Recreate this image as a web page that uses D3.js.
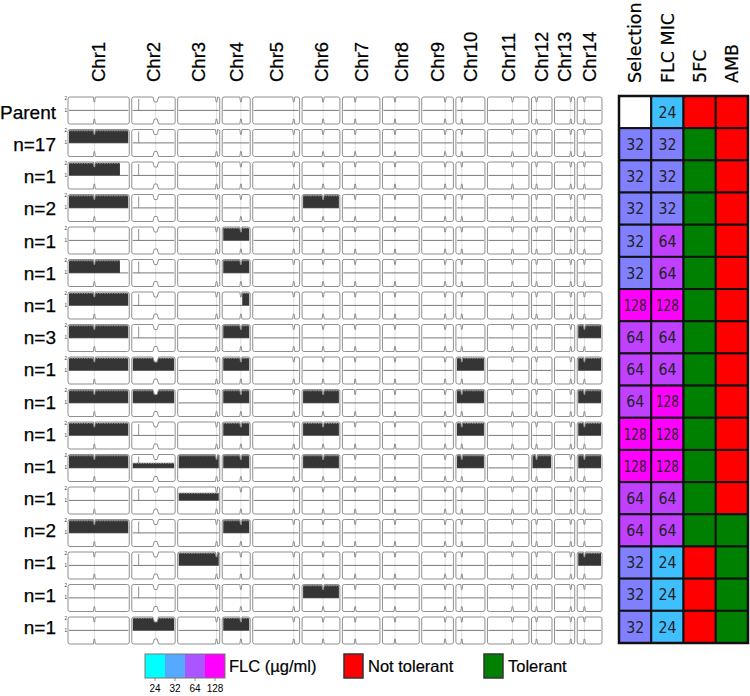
<!DOCTYPE html>
<html><head><meta charset="utf-8">
<script src="https://cdn.jsdelivr.net/npm/d3@7"></script>
<style>body{margin:0;background:#fff} svg{display:block}</style>
</head><body><svg id="c" width="750" height="696"></svg>
<script>
// ---------------- data ----------------
const chromosomes = ["Chr1","Chr2","Chr3","Chr4","Chr5","Chr6","Chr7","Chr8","Chr9","Chr10","Chr11","Chr12","Chr13","Chr14"];
const chrLengthsMb = [2.30,1.63,1.58,1.05,1.76,1.42,1.41,1.38,1.19,1.09,1.56,0.77,0.76,0.93];
const centromereMb = [0.99,0.90,1.46,0.70,1.54,0.79,0.48,0.47,0.88,0.22,0.94,0.19,0.61,0.27];
const centromereWidthMb = [0.07,0.22,0.08,0.08,0.08,0.08,0.07,0.07,0.08,0.07,0.08,0.07,0.07,0.07];
const spikeChr = ["Chr2"];
const spikeMb = [0.26];
const rowLabels = ["Parent","n=17","n=1","n=2","n=1","n=1","n=1","n=3","n=1","n=1","n=1","n=1","n=1","n=2","n=1","n=1","n=1"];
// gained segments: row index, chromosome, start Mb, end Mb, copy number
const gainRow = [1,2,3,3,4,5,5,6,6,7,7,7,8,8,8,8,8,9,9,9,9,9,9,10,10,10,10,10,11,11,11,11,11,11,11,11,12,13,13,14,14,15,16,16];
const gainChr = ["Chr1","Chr1","Chr1","Chr6","Chr4","Chr1","Chr4","Chr1","Chr4","Chr1","Chr4","Chr14",
  "Chr1","Chr2","Chr4","Chr10","Chr14",
  "Chr1","Chr2","Chr4","Chr6","Chr10","Chr14",
  "Chr1","Chr4","Chr6","Chr10","Chr14",
  "Chr1","Chr2","Chr3","Chr4","Chr6","Chr10","Chr12","Chr14",
  "Chr3","Chr1","Chr4","Chr3","Chr14","Chr6","Chr2","Chr4"];
const gainStart = [0,0,0,0,0,0,0,0,0.75,0,0,0, 0,0,0,0,0, 0,0,0,0,0,0, 0,0,0,0,0, 0,0,0,0,0,0,0,0, 0,0,0,0,0,0,0,0];
const gainEnd = [2.30,1.95,2.30,1.42,1.05,1.95,1.05,2.30,1.05,2.30,1.05,0.93,
  2.30,1.63,1.05,1.09,0.93,
  2.30,1.63,1.05,1.42,1.09,0.93,
  2.30,1.05,1.42,1.09,0.93,
  2.30,1.63,1.58,1.05,1.42,1.09,0.77,0.93,
  1.58,2.30,1.05,1.58,0.93,1.42,1.63,1.05];
const gainLevel = [2,2,2,2,2,2,2,2,2,2,2,2, 2,2,2,2,2, 2,2,2,2,2,2, 2,2,2,2,2, 2,1.4,2,2,2,2,2,2, 1.6,2,2,2,2,2,2,2];

const heatmapColumns = ["Selection","FLC MIC","5FC","AMB"];
const selectionMic = [null,32,32,32,32,32,128,64,64,64,128,128,64,64,32,32,32];
const flcMic = [24,32,32,32,64,64,128,64,64,128,128,128,64,64,24,24,24];
const tolerant5FC = [false,true,true,true,true,true,true,true,true,true,true,true,true,true,false,false,false];
const tolerantAMB = [false,false,false,false,false,false,false,false,false,false,false,false,false,true,true,true,true];
const flcLevels = [24,32,64,128];
const toleranceLabels = ["Not tolerant","Tolerant"];

// ---------------- drawing ----------------
const svg = d3.select("#c");
const cellColor = d3.scaleOrdinal(flcLevels, ["#40bfff","#8080ff","#bf40ff","#ff00ff"]);
const legendColor = d3.scaleOrdinal(flcLevels, ["#00ffff","#55aaff","#aa55ff","#ff00ff"]);
const tolColor = d3.scaleOrdinal([false,true], ["#ff0000","#008000"]);

const gapMb = 0.094;
const chrStart = {};
let acc = 0;
chromosomes.forEach((c,i)=>{ chrStart[c] = acc; acc += chrLengthsMb[i] + gapMb; });
const totalMb = acc - gapMb;
const x = d3.scaleLinear().domain([0,totalMb]).range([68,602]);
const rows = d3.range(rowLabels.length);
const yRow = d3.scaleBand().domain(rows).range([96,643]);
const yBox = d3.scalePoint().domain(rows).range([97,617]);
const boxH = 27, dep = 5, rad = 2;

// column headers for chromosomes
svg.append("g").selectAll("text").data(chromosomes).join("text")
  .attr("transform",(c,i)=>`translate(${x(chrStart[c]+chrLengthsMb[i]/2)},82) rotate(-90)`)
  .attr("dy","0.36em")
  .style("font-family","'Liberation Sans',Arial,sans-serif").style("font-size","18.5px").attr("fill","#000")
  .attr("stroke","#000").attr("stroke-width",0.25)
  .text(d=>d);

// row labels
svg.append("g").selectAll("text").data(rowLabels).join("text")
  .attr("x",56).attr("y",(d,i)=>yRow(i)+yRow.bandwidth()/2).attr("dy","0.36em")
  .attr("text-anchor","end")
  .style("font-family","'Liberation Sans',Arial,sans-serif").style("font-size","19px")
  .attr("stroke","#000").attr("stroke-width",0.25)
  .text(d=>d);

const gPlots = svg.append("g");
rows.forEach(r=>{
  const top = yBox(r), bot = top + boxH;
  const cy = d3.scaleLinear().domain([0,2]).range([bot-1, top+0.8]);
  const g = gPlots.append("g");
  // y tick labels for first chromosome
  g.append("text").attr("x",67).attr("y",cy(2)+2).attr("text-anchor","end")
    .style("font-size","4.5px").style("font-family","'Liberation Sans',Arial").attr("fill","#333").text("2");
  g.append("text").attr("x",67).attr("y",cy(1)+1.5).attr("text-anchor","end")
    .style("font-size","4.5px").style("font-family","'Liberation Sans',Arial").attr("fill","#333").text("1");
  chromosomes.forEach((c,ci)=>{
    const s = chrStart[c], L = chrLengthsMb[ci];
    const x0 = x(s), x1 = x(s+L);
    const cx0 = x(s+centromereMb[ci]-centromereWidthMb[ci]/2);
    const cx1 = x(s+centromereMb[ci]+centromereWidthMb[ci]/2);
    const d = Math.min(1.6,(cx1-cx0)/3);
    g.append("line").attr("x1",(cx0+cx1)/2).attr("x2",(cx0+cx1)/2).attr("y1",top).attr("y2",bot)
      .attr("stroke","#d8d8d8").attr("stroke-width",0.8);
    g.append("line").attr("x1",x0+1).attr("x2",x1-1).attr("y1",cy(1)).attr("y2",cy(1))
      .attr("stroke","#555").attr("stroke-width",0.8);
    spikeChr.forEach((sc,k)=>{ if(sc===c){
      g.append("line").attr("x1",x(s+spikeMb[k])).attr("x2",x(s+spikeMb[k]))
        .attr("y1",cy(1)).attr("y2",top+2).attr("stroke","#777").attr("stroke-width",0.8);
    }});
    gainRow.forEach((gr,k)=>{
      if(gr===r && gainChr[k]===c){
        const gx0 = Math.max(x0+1, x(s+gainStart[k])), gx1 = Math.min(x1-1, x(s+gainEnd[k]));
        g.append("rect").attr("x",gx0).attr("width",gx1-gx0)
          .attr("y",cy(gainLevel[k])).attr("height",cy(1)-cy(gainLevel[k]))
          .attr("fill","#353535");
        g.append("line").attr("x1",gx0).attr("x2",gx1).attr("y1",cy(gainLevel[k])+0.5).attr("y2",cy(gainLevel[k])+0.5)
          .attr("stroke","#9a9a9a").attr("stroke-width",1).attr("stroke-dasharray","1.5,1");
      }
    });
    g.append("path").attr("d",`M${cx0},${top}L${cx0+d},${top+dep}L${cx1-d},${top+dep}L${cx1},${top}Z`).attr("fill","#fff");
    g.append("path").attr("d",`M${cx0},${bot}L${cx0+d},${bot-dep}L${cx1-d},${bot-dep}L${cx1},${bot}Z`).attr("fill","#fff");
    const p = `M${x0+rad},${top}L${cx0},${top}L${cx0+d},${top+dep}L${cx1-d},${top+dep}L${cx1},${top}L${x1-rad},${top}`+
      `Q${x1},${top} ${x1},${top+rad}L${x1},${bot-rad}Q${x1},${bot} ${x1-rad},${bot}`+
      `L${cx1},${bot}L${cx1-d},${bot-dep}L${cx0+d},${bot-dep}L${cx0},${bot}L${x0+rad},${bot}`+
      `Q${x0},${bot} ${x0},${bot-rad}L${x0},${top+rad}Q${x0},${top} ${x0+rad},${top}Z`;
    g.append("path").attr("d",p).attr("fill","none").attr("stroke","#8f8f8f").attr("stroke-width",1);
  });
});

// heatmap
const xCol = d3.scaleBand().domain(heatmapColumns).range([619,748]);
svg.append("g").selectAll("text").data(heatmapColumns).join("text")
  .attr("transform",d=>`translate(${xCol(d)+xCol.bandwidth()/2},83) rotate(-90)`)
  .attr("dy","0.36em")
  .style("font-family","'DejaVu Sans',sans-serif").style("font-size","17.5px")
  .attr("stroke","#000").attr("stroke-width",0.2)
  .text(d=>d);

const hm = svg.append("g");
rows.forEach(r=>{
  const vals = [selectionMic[r], flcMic[r], tolerant5FC[r], tolerantAMB[r]];
  heatmapColumns.forEach((col,ci)=>{
    const v = vals[ci];
    let fill;
    if(ci<2) fill = v==null ? "#ffffff" : cellColor(v); else fill = tolColor(v);
    hm.append("rect").attr("x",xCol(col)).attr("y",yRow(r)).attr("width",xCol.bandwidth()).attr("height",yRow.bandwidth())
      .attr("fill",fill).attr("stroke","#111").attr("stroke-width",2);
    if(ci<2 && v!=null){
      const t = String(v);
      hm.append("text").attr("x",xCol(col)+xCol.bandwidth()/2).attr("y",yRow(r)+yRow.bandwidth()/2)
        .attr("dy","0.36em").attr("text-anchor","middle")
        .attr("textLength", t.length>2 ? 23 : 18).attr("lengthAdjust","spacingAndGlyphs")
        .style("font-family","'DejaVu Sans',sans-serif").style("font-size","16px").attr("fill","#222")
        .text(t);
    }
  });
});
hm.append("rect").attr("x",619).attr("y",96).attr("width",129).attr("height",547)
  .attr("fill","none").attr("stroke","#111").attr("stroke-width",2.5);

// legend
const xLeg = d3.scaleBand().domain(flcLevels).range([145,225]);
const lg = svg.append("g");
lg.selectAll("rect.sw").data(flcLevels).join("rect")
  .attr("x",d=>xLeg(d)).attr("y",654).attr("width",xLeg.bandwidth()).attr("height",24)
  .attr("fill",d=>legendColor(d));
lg.append("rect").attr("x",145).attr("y",654).attr("width",80).attr("height",24)
  .attr("fill","none").attr("stroke","#777").attr("stroke-width",1);
lg.selectAll("line.tk").data(flcLevels).join("line")
  .attr("x1",d=>xLeg(d)+xLeg.bandwidth()/2).attr("x2",d=>xLeg(d)+xLeg.bandwidth()/2)
  .attr("y1",678).attr("y2",681).attr("stroke","#777").attr("stroke-width",0.8);
lg.selectAll("text.tl").data(flcLevels).join("text")
  .attr("x",d=>xLeg(d)+xLeg.bandwidth()/2).attr("y",692).attr("text-anchor","middle")
  .style("font-family","'Liberation Sans',Arial,sans-serif").style("font-size","10px").text(d=>d);
lg.append("text").attr("x",229).attr("y",672)
  .style("font-family","'Liberation Sans',Arial,sans-serif").style("font-size","16.5px")
  .attr("stroke","#000").attr("stroke-width",0.2).text("FLC (µg/ml)");
const tolX = [344,484];
toleranceLabels.forEach((lab,i)=>{
  lg.append("rect").attr("x",tolX[i]).attr("y",654).attr("width",19).attr("height",24)
    .attr("fill",tolColor(i===1)).attr("stroke","#333").attr("stroke-width",1.5);
  lg.append("text").attr("x",tolX[i]+24).attr("y",672)
    .style("font-family","'Liberation Sans',Arial,sans-serif").style("font-size","16.5px")
    .attr("stroke","#000").attr("stroke-width",0.2).text(lab);
});
</script></body></html>
